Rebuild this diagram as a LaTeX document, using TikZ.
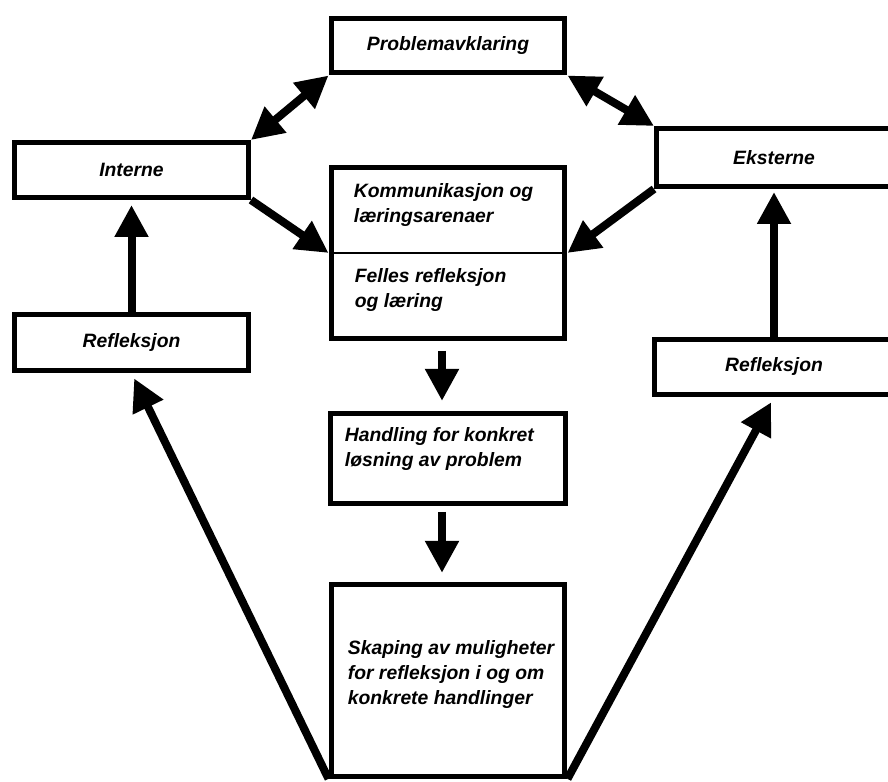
\documentclass[tikz,border=0pt]{standalone}
\usepackage{fontspec}
\setmainfont{Liberation Sans}
\usetikzlibrary{arrows.meta,positioning}

\newcommand\boksfont{\fontsize{11pt}{14.2pt}\selectfont\bfseries\itshape}

\tikzset{
    boks/.style={draw, line width=0.1cm, minimum width=4.68cm,
                 minimum height=1.1cm, inner sep=0pt, font=\boksfont},
    tekst/.style={inner sep=0pt, align=left, anchor=west, font=\boksfont},
    pil/.style={line width=0.16cm, -{Triangle[length=0.64cm,width=0.64cm]}},
    dobbelpil/.style={line width=0.16cm,
                 {Triangle[length=0.64cm,width=0.64cm]}-{Triangle[length=0.64cm,width=0.64cm]}}
}

\begin{document}
\begin{tikzpicture}[x=0.02cm, y=-0.02cm]
                \useasboundingbox (0,0) rectangle (888,781);

                % midten
                \node [boks] (prob) at (448,45.5) {Problemavklaring};
                \node [boks, minimum height=3.42cm,
                        below = 1.79cm of prob]
                                        (komm) {};
                \draw[line width=0.04cm] (komm.west) -- (komm.east);
                \node [tekst] (komm1) at ([xshift=0.5cm, yshift=0.95cm]komm.west)
                                        {Kommunikasjon og\\læringsarenaer};
                \node [tekst] (komm2) at ([xshift=0.52cm, yshift=-0.74cm]komm.west)
                                        {Felles refleksjon\\og læring};
                \node [boks, minimum width=4.72cm, minimum height=1.8cm,
                        below = 1.4cm of komm]
                                        (handl) {};
                \node [tekst] (handltekst) at ([xshift=0.34cm, yshift=0.18cm]handl.west)
                                        {Handling for konkret\\løsning av problem};
                \node [boks, minimum height=3.84cm,
                        below = 1.52cm of handl]
                                        (skap) {};
                \node [tekst] (skaptekst) at ([xshift=0.38cm, yshift=0.11cm]skap.west)
                                        {Skaping av muligheter\\for refleksjon i og om\\konkrete handlinger};

                % venstre
                \node [boks] (intern) at (131.5,170) {Interne};
                \node [boks, minimum height=1.12cm,
                        below = 2.24cm of intern]
                                        (refl1) {Refleksjon};

                % hoyre
                \node [boks, minimum width=4.7cm, minimum height=1.16cm]
                                        (ekstern) at (774,157.5) {Eksterne};
                \node [boks, minimum width=4.8cm,
                        below = 2.96cm of ekstern]
                                        (refl2) {Refleksjon};

                % piler
                \draw[dobbelpil] (intern.north east) -- (prob.south west);
                \draw[dobbelpil] (prob.south east) -- (ekstern.north west);
                \draw[pil] (intern.south east) -- (komm.west);
                \draw[pil] (ekstern.south west) -- (komm.east);
                \draw[pil, shorten >=0.1cm] (refl1.north) -- (intern.south);
                \draw[pil, shorten >=0.06cm] (refl2.north) -- (ekstern.south);
                \draw[pil, shorten <=0.2cm, shorten >=0.2cm]
                        ([xshift=-0.12cm]komm.south) -- ([xshift=-0.12cm]handl.north);
                \draw[pil, shorten <=0.12cm, shorten >=0.18cm]
                        ([xshift=-0.12cm]handl.south) -- ([xshift=-0.12cm]skap.north);
                \draw[pil, shorten >=0.12cm] (skap.south west) -- (refl1.south);
                \draw[pil, shorten >=0.12cm] (skap.south east) -- (refl2.south);
            \end{tikzpicture}
\end{document}
